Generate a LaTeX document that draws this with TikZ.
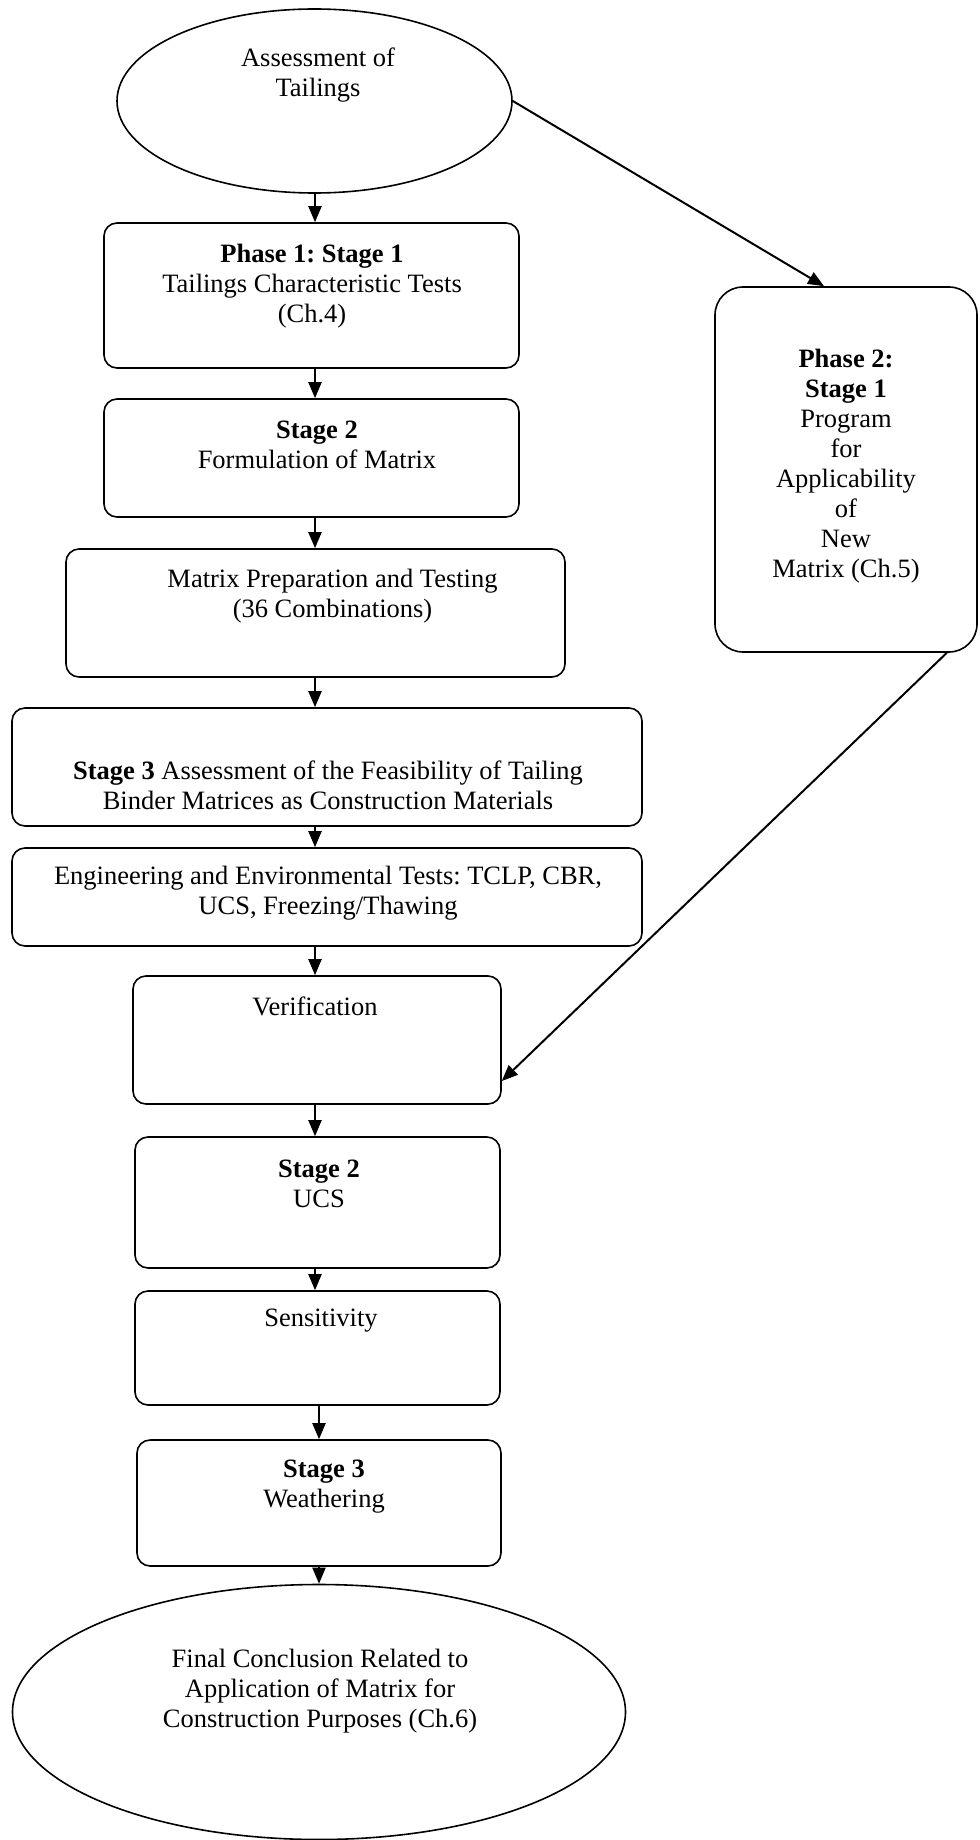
\documentclass[tikz,border=0pt]{standalone}
\usepackage{fontspec}
\setmainfont{Liberation Serif}
\usepackage{tikz}
\usetikzlibrary{shapes.geometric}
\usetikzlibrary{arrows.meta}
\frenchspacing

\begin{document}
\begin{tikzpicture}[x=0.5pt,y=-0.5pt,
  stagebox/.style={draw,line width=0.8pt,rounded corners=6.5pt,inner sep=0pt},
  oval/.style={draw,ellipse,line width=0.8pt,inner sep=0pt},
  txt/.style={align=center,inner sep=0pt,font=\fontsize{13.25}{15}\selectfont},
  arr/.style={line width=1pt,-{Triangle[length=8pt,width=6.5pt]}}]
\useasboundingbox (0,0) rectangle (979,1840);

\coordinate (mid) at (315,0);
\coordinate (midlow) at (319,0);

% shapes
\node[oval,minimum width=197.5pt,minimum height=92pt] (top) at (314.5,101) {};
\node[stagebox,minimum width=207.5pt,minimum height=72.5pt] (b1) at (311.5,295.5) {};
\node[stagebox,minimum width=207.5pt,minimum height=59pt] (b2) at (311.5,458) {};
\node[stagebox,minimum width=249.5pt,minimum height=64pt] (b3) at (315.5,613) {};
\node[stagebox,minimum width=315pt,minimum height=59pt] (b4) at (327,767) {};
\node[stagebox,minimum width=315pt,minimum height=49pt] (b5) at (327,897) {};
\node[stagebox,minimum width=184pt,minimum height=64pt] (verif) at (317,1040) {};
\node[stagebox,minimum width=182.5pt,minimum height=65.5pt] (ucs) at (317.5,1202.5) {};
\node[stagebox,minimum width=182.5pt,minimum height=57pt] (sens) at (317.5,1348) {};
\node[stagebox,minimum width=182pt,minimum height=63pt] (st3) at (319,1503) {};
\node[oval,minimum width=306.5pt,minimum height=127.5pt] (final) at (319,1712) {};
\node[stagebox,rounded corners=14pt,minimum width=131pt,minimum height=182.5pt] (ph2) at (846,469.5) {};

% texts
\node[txt] (ttop) at (318,75.5) {Assessment of\\Tailings};
\node[txt] (t1) at (312,286) {\textbf{Phase 1: Stage 1}\\Tailings Characteristic Tests\\(Ch.4)};
\node[txt] (t2) at (317,444.5) {\textbf{Stage 2}\\Formulation of Matrix};
\node[txt] (t3) at (332.5,596) {Matrix Preparation and Testing\\(36 Combinations)};
\node[txt] (t4) at (328,785) {\textbf{Stage 3} Assessment of the Feasibility of Tailing\\Binder Matrices as Construction Materials};
\node[txt] (t5) at (328,893.5) {Engineering and Environmental Tests: TCLP, CBR,\\UCS, Freezing/Thawing};
\node[txt] (tverif) at (315,1006) {Verification};
\node[txt] (tucs) at (319,1183.5) {\textbf{Stage 2}\\UCS};
\node[txt] (tsens) at (321,1321) {Sensitivity};
\node[txt] (tst3) at (324,1487) {\textbf{Stage 3}\\Weathering};
\node[txt] (tfinal) at (320,1691) {Final Conclusion Related to\\Application of Matrix for\\Construction Purposes (Ch.6)};
\node[txt] (tph2) at (846,466.5) {\textbf{Phase 2:}\\\textbf{Stage 1}\\Program\\for\\Applicability\\of\\New\\Matrix (Ch.5)};

% arrows
\draw[arr] (top.south -| mid) -- (b1.north -| mid);
\draw[arr] (b1.south -| mid) -- (b2.north -| mid);
\draw[arr] (b2.south -| mid) -- (b3.north -| mid);
\draw[arr] (b3.south -| mid) -- (b4.north -| mid);
\draw[arr] (b4.south -| mid) -- (b5.north -| mid);
\draw[arr] (b5.south -| mid) -- (verif.north -| mid);
\draw[arr] (verif.south -| mid) -- (ucs.north -| mid);
\draw[arr] (ucs.south -| mid) -- (sens.north -| mid);
\draw[arr] (sens.south -| midlow) -- (st3.north -| midlow);
\draw[arr] (st3.south -| midlow) -- (final.north -| midlow);
\draw[arr] (top.east) -- ([xshift=-11pt]ph2.north);
\draw[arr] ([xshift=-15.5pt]ph2.south east) -- ([yshift=-20.5pt]verif.east);
\end{tikzpicture}
\end{document}
